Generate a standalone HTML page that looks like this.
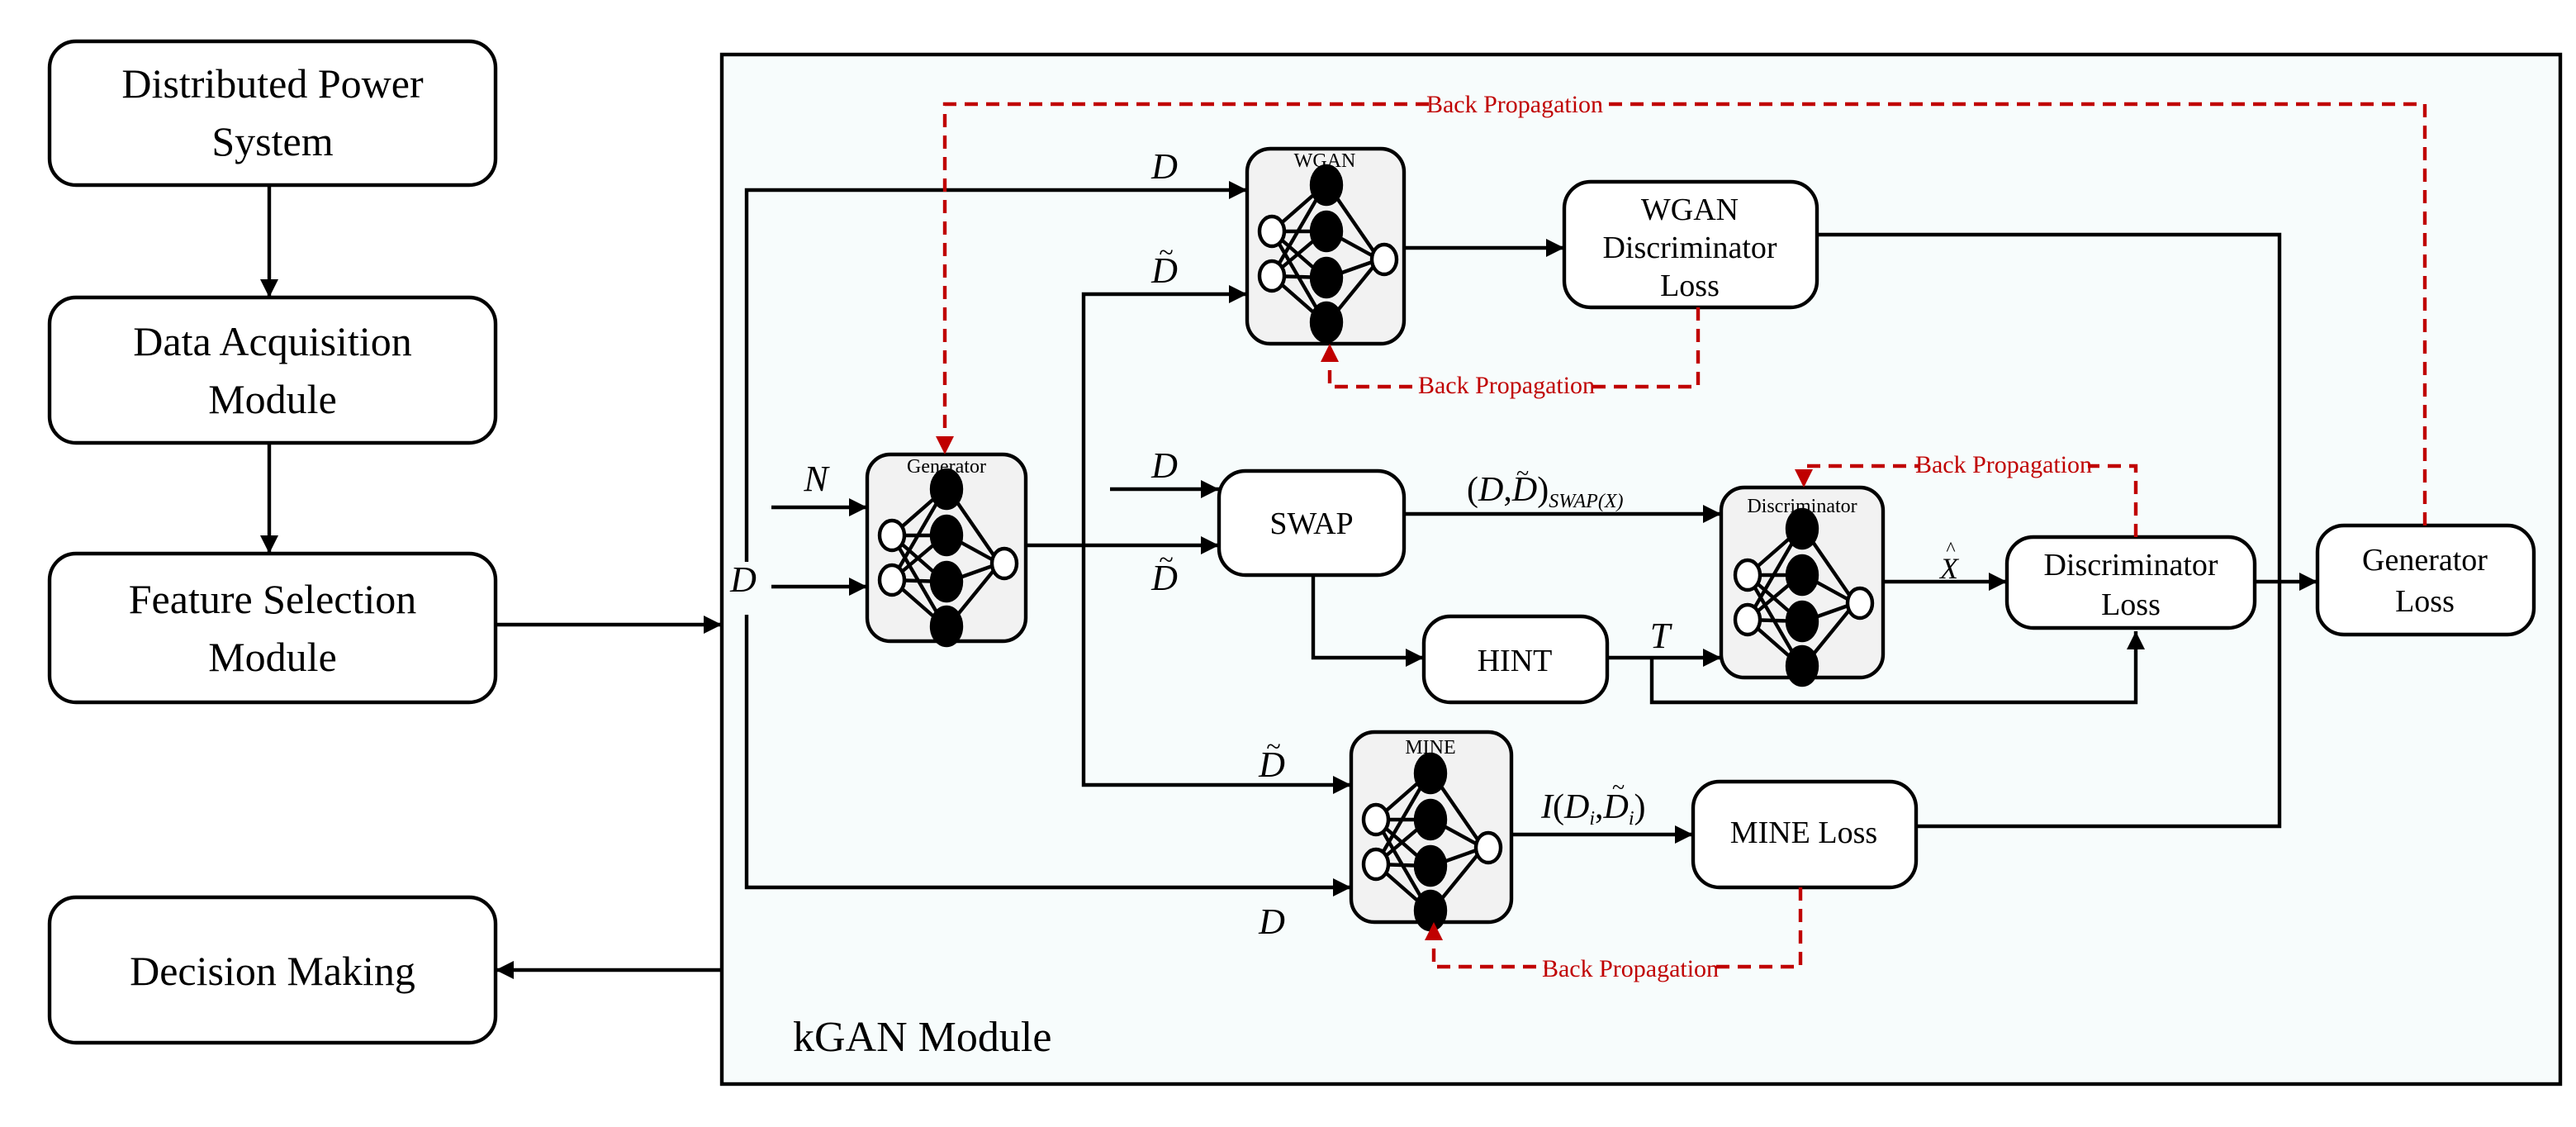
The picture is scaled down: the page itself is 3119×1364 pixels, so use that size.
<!DOCTYPE html>
<html><head><style>html,body{margin:0;padding:0;background:#fff}svg{display:block}svg text{font-family:"Liberation Serif","DejaVu Serif",serif}</style></head>
<body>
<svg width="3119" height="1364" viewBox="0 0 1559.5 682" xmlns="http://www.w3.org/2000/svg" style="font-family:'Liberation Serif',serif">
<defs>
<marker id="a" viewBox="0 0 10 10" refX="10" refY="5" markerWidth="5" markerHeight="5" orient="auto"><path d="M0,0L10,5L0,10z" fill="#000"/></marker>
<marker id="r" viewBox="0 0 10 10" refX="10" refY="5" markerWidth="5" markerHeight="5" orient="auto"><path d="M0,0L10,5L0,10z" fill="#c00000"/></marker>
<g id="net" stroke="#000" stroke-width="2.2">
<path d="M15,50L47,22M15,50L47,50M15,50L47,78M15,50L47,105M15,77L47,22M15,77L47,50M15,77L47,78M15,77L47,105M49,22L80,67M49,50L80,67M49,78L80,67M49,105L80,67" fill="none"/>
<ellipse cx="48" cy="22" rx="9" ry="11.5" fill="#000"/>
<ellipse cx="48" cy="50" rx="9" ry="11.5" fill="#000"/>
<ellipse cx="48" cy="78" rx="9" ry="11.5" fill="#000"/>
<ellipse cx="48" cy="105" rx="9" ry="11.5" fill="#000"/>
<ellipse cx="15" cy="50" rx="7.5" ry="9" fill="#fff"/>
<ellipse cx="15" cy="77" rx="7.5" ry="9" fill="#fff"/>
<ellipse cx="83" cy="67" rx="7.5" ry="9" fill="#fff"/>
</g>
</defs>
<rect width="1559.5" height="682" fill="#fff"/>
<g stroke="#000" stroke-width="2.2" fill="#fff">
<rect x="30" y="25" width="270" height="87" rx="16"/>
<rect x="30" y="180" width="270" height="88" rx="16"/>
<rect x="30" y="335" width="270" height="90" rx="16"/>
<rect x="30" y="543" width="270" height="88" rx="16"/>
<rect x="437" y="33" width="1113" height="623" fill="#f7fcfc"/>
</g>
<g font-size="25" text-anchor="middle">
<text x="165" y="59">Distributed Power</text><text x="165" y="94">System</text>
<text x="165" y="215">Data Acquisition</text><text x="165" y="250">Module</text>
<text x="165" y="371">Feature Selection</text><text x="165" y="406">Module</text>
<text x="165" y="596">Decision Making</text>
</g>
<text x="480" y="636" font-size="26">kGAN Module</text>
<g stroke="#000" stroke-width="2.2" fill="none" marker-end="url(#a)">
<path d="M163,112V180"/><path d="M163,268V335"/>
<path d="M300,378H437"/><path d="M437,587H300"/>
<path d="M452,340V115H755"/><path d="M452,372V537H818"/>
<path d="M467,307H525"/><path d="M467,355H525"/>
<path d="M621,330H738"/>
<path d="M656,330V178H755"/><path d="M656,330V475H818"/>
<path d="M672,296H738"/>
<path d="M850,150H947"/>
<path d="M850,311H1042"/>
<path d="M795,348V398H862"/>
<path d="M973,398H1042"/>
<path d="M1000,398V425H1293V382"/>
<path d="M1140,352H1215"/>
<path d="M1365,352H1403"/>
<path d="M915,505H1025"/>
</g>
<g stroke="#000" stroke-width="2.2" fill="none">
<path d="M1100,142H1380V500H1160"/>
</g>
<g stroke="#000" stroke-width="2.2">
<rect x="525" y="275" width="96" height="113" rx="14" fill="#f2f2f2"/>
<rect x="755" y="90" width="95" height="118" rx="14" fill="#f2f2f2"/>
<rect x="1042" y="295" width="98" height="115" rx="14" fill="#f2f2f2"/>
<rect x="818" y="443" width="97" height="115" rx="14" fill="#f2f2f2"/>
<rect x="947" y="110" width="153" height="76" rx="16" fill="#fff"/>
<rect x="738" y="285" width="112" height="63" rx="16" fill="#fff"/>
<rect x="862" y="373" width="111" height="52" rx="16" fill="#fff"/>
<rect x="1215" y="325" width="150" height="55" rx="16" fill="#fff"/>
<rect x="1403" y="318" width="131" height="66" rx="16" fill="#fff"/>
<rect x="1025" y="473" width="135" height="64" rx="16" fill="#fff"/>
</g>
<use href="#net" x="525" y="274"/>
<use href="#net" x="755" y="90"/>
<use href="#net" x="1043" y="298"/>
<use href="#net" x="818" y="446"/>
<g font-size="12" text-anchor="middle">
<text x="573" y="286">Generator</text>
<text x="802" y="101">WGAN</text>
<text x="1091" y="310">Discriminator</text>
<text x="866" y="456">MINE</text>
</g>
<g font-size="19" text-anchor="middle">
<text x="1023" y="133">WGAN</text><text x="1023" y="156">Discriminator</text><text x="1023" y="179">Loss</text>
<text x="794" y="323">SWAP</text>
<text x="917" y="406">HINT</text>
<text x="1290" y="348">Discriminator</text><text x="1290" y="372">Loss</text>
<text x="1468" y="345">Generator</text><text x="1468" y="370">Loss</text>
<text x="1092" y="510">MINE Loss</text>
</g>
<g font-size="22" font-style="italic" text-anchor="middle">
<text x="450" y="358">D</text>
<text x="705" y="108">D</text>
<text x="705" y="171">D</text><text x="706" y="158" font-style="normal" font-size="16">~</text>
<text x="494" y="297">N</text>
<text x="705" y="289">D</text>
<text x="705" y="357">D</text><text x="706" y="344" font-style="normal" font-size="16">~</text>
<text x="770" y="470">D</text><text x="771" y="457" font-style="normal" font-size="16">~</text>
<text x="770" y="565">D</text>
<text x="1005" y="392">T</text>
<text x="1180" y="350" font-size="18">X</text><text x="1181" y="336" font-style="normal" font-size="12">^</text>
</g>
<text x="888" y="303" font-size="21"><tspan>(</tspan><tspan font-style="italic">D</tspan><tspan>,</tspan><tspan font-style="italic">D</tspan><tspan>)</tspan><tspan font-style="italic" font-size="12" dy="4">SWAP(X)</tspan></text>
<text x="918" y="291" font-size="14">~</text>
<text x="933" y="495" font-size="21"><tspan font-style="italic">I</tspan><tspan>(</tspan><tspan font-style="italic">D</tspan><tspan font-style="italic" font-size="12" dy="4">i</tspan><tspan dy="-4">,</tspan><tspan font-style="italic">D</tspan><tspan font-style="italic" font-size="12" dy="4">i</tspan><tspan dy="-4">)</tspan></text>
<text x="976" y="481" font-size="14">~</text>
<g stroke="#c00000" stroke-width="2.2" fill="none" stroke-dasharray="8,5">
<path d="M1468,318V63H572V275" marker-end="url(#r)"/>
<path d="M1028,186V234H805V208" marker-end="url(#r)"/>
<path d="M1293,325V282H1092V295" marker-end="url(#r)"/>
<path d="M1090,537V585H868V558" marker-end="url(#r)"/>
</g>
<g font-size="15" fill="#c00000" text-anchor="middle">
<rect x="866" y="54" width="102" height="18" fill="#f7fcfc"/><text x="917" y="68">Back Propagation</text>
<rect x="861" y="224" width="102" height="18" fill="#f7fcfc"/><text x="912" y="238">Back Propagation</text>
<rect x="1162" y="272" width="102" height="18" fill="#f7fcfc"/><text x="1213" y="286">Back Propagation</text>
<rect x="936" y="577" width="102" height="18" fill="#f7fcfc"/><text x="987" y="591">Back Propagation</text>
</g>
</svg>
</body></html>
